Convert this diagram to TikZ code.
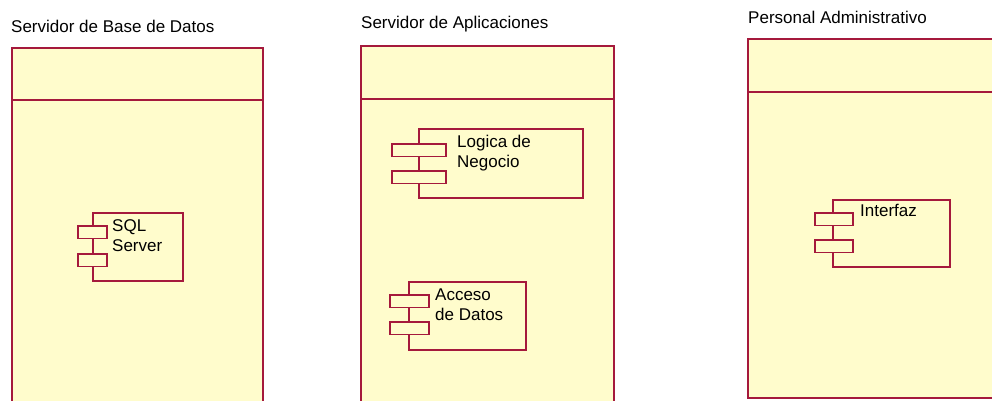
\documentclass[tikz,border=0pt]{standalone}
\usepackage{fontspec}
\setmainfont{Liberation Sans}
\definecolor{umlred}{RGB}{165,25,60}
\definecolor{umlfill}{RGB}{255,252,204}

\begin{document}
\begin{tikzpicture}[x=1pt,y=-1pt]

	\tikzset{
		nodebox/.style={draw=umlred, fill=umlfill, line width=1.5pt, inner sep=0pt, anchor=north west},
		comp/.style={draw=umlred, fill=umlfill, line width=1.5pt, inner sep=0pt, anchor=north west},
		tab/.style={comp, minimum height=12.5},
		lbl/.style={font=\fontsize{17}{20}\selectfont, inner sep=0pt, anchor=base west, align=left}
	}
	\useasboundingbox (0,0) rectangle (992,400);
	\clip (0,0) rectangle (992,400);

	% servidor de base de datos
	\node[lbl] (bdname) at (11,32) {Servidor de Base de Datos};
	\node[nodebox, minimum width=251, minimum height=380] (bd) at (11,47) {};
	\draw[umlred, line width=1.5pt] ([yshift=-53pt]bd.north west) -- ([yshift=-53pt]bd.north east);
	\node[comp, minimum width=90, minimum height=68] (sql) at (92,212) {};
	\node[tab, minimum width=29] (sqlA) at (77,225) {};
	\node[tab, minimum width=29] (sqlB) at (77,253) {};
	\node[lbl] (sqltxt) at (112,251) {SQL\\Server};

	% servidor de aplicaciones
	\node[lbl] (apname) at (361,28) {Servidor de Aplicaciones};
	\node[nodebox, minimum width=253, minimum height=380] (ap) at (360,45) {};
	\draw[umlred, line width=1.5pt] ([yshift=-54pt]ap.north west) -- ([yshift=-54pt]ap.north east);
	\node[comp, minimum width=164, minimum height=69] (log) at (418,128) {};
	\node[tab, minimum width=54] (logA) at (391,143) {};
	\node[tab, minimum width=54] (logB) at (391,170) {};
	\node[lbl] (logtxt) at (457,167) {Logica de\\Negocio};
	\node[comp, minimum width=117, minimum height=68] (acc) at (408,281) {};
	\node[tab, minimum width=39] (accA) at (389,294) {};
	\node[tab, minimum width=39] (accB) at (389,321) {};
	\node[lbl] (acctxt) at (435,320) {Acceso\\de Datos};

	% personal administrativo
	\node[lbl] (paname) at (748,23) {Personal Administrativo};
	\node[nodebox, minimum width=320, minimum height=359] (pa) at (747,38) {};
	\draw[umlred, line width=1.5pt] ([yshift=-54pt]pa.north west) -- ([yshift=-54pt]pa.north east);
	\node[comp, minimum width=117, minimum height=67] (intf) at (832,199) {};
	\node[tab, minimum width=38] (intfA) at (814,212) {};
	\node[tab, minimum width=38] (intfB) at (814,239) {};
	\node[lbl] (intftxt) at (860,216) {Interfaz};

\end{tikzpicture}
\end{document}
